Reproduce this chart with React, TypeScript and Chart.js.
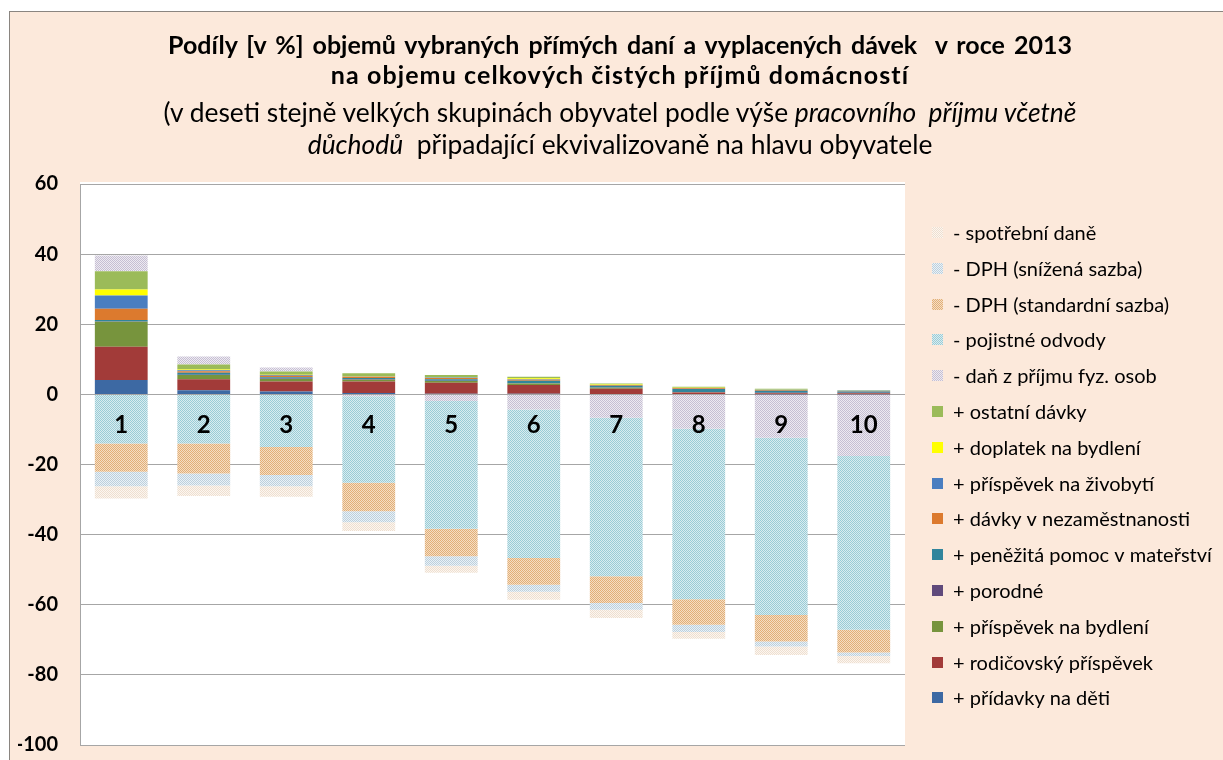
import React, { useEffect, useRef } from "react";
import { Chart, registerables } from "chart.js";

Chart.register(...registerables);

// ---- data (values in % of total net household income) ----
const deciles = ["1", "2", "3", "4", "5", "6", "7", "8", "9", "10"];

const pridavkyNaDeti = [4.1, 1.2, 0.8, 0.4, 0.2, 0.2, 0.1, 0.1, 0.05, 0.05];
const rodicovskyPrispevek = [9.5, 3.1, 2.9, 3.3, 3.1, 2.5, 1.5, 0.4, 0.3, 0.3];
const prispevekNaBydleni = [7.1, 1.2, 0.7, 0.5, 0.5, 0.4, 0.3, 0.1, 0.05, 0.05];
const porodne = [0.1, 0.1, 0.1, 0.1, 0.1, 0.1, 0.05, 0.05, 0.05, 0.05];
const penezitaPomoc = [0.4, 0.6, 0.4, 0.4, 0.4, 0.7, 0.5, 0.9, 0.6, 0.4];
const davkyNezamestnanost = [3.2, 0.4, 0.4, 0.3, 0.4, 0.3, 0.2, 0.2, 0.2, 0.1];
const prispevekNaZivobyti = [3.8, 0.3, 0.2, 0.1, 0.1, 0.1, 0.05, 0.1, 0.05, 0.05];
const doplatekNaBydleni = [1.7, 0.2, 0.1, 0.1, 0.1, 0.3, 0.1, 0.05, 0.1, 0.05];
const ostatniDavky = [5.2, 1.4, 0.9, 0.8, 0.6, 0.4, 0.3, 0.3, 0.2, 0.15];
const danZPrijmu = [4.5, 2.3, 1.2, -0.5, -1.9, -4.3, -6.7, -9.8, -12.4, -17.6];
const pojistneOdvody = [-14.0, -14.0, -15.0, -24.7, -36.4, -42.4, -45.2, -48.6, -50.5, -49.5];
const dphStandardni = [-8.1, -8.6, -8.0, -8.1, -7.9, -7.6, -7.6, -7.3, -7.6, -6.5];
const dphSnizena = [-4.1, -3.4, -3.2, -3.2, -2.7, -2.0, -1.9, -2.1, -1.4, -1.0];
const spotrebniDane = [-3.5, -3.0, -3.0, -2.5, -2.0, -2.3, -2.4, -1.9, -2.4, -2.1];

const seriesLabels = [
  "+ přídavky na děti",
  "+ rodičovský příspěvek",
  "+ příspěvek na bydlení",
  "+ porodné",
  "+ peněžitá pomoc v mateřství",
  "+ dávky v nezaměstnanosti",
  "+ příspěvek na živobytí",
  "+ doplatek na bydlení",
  "+ ostatní dávky",
  "- daň z příjmu fyz. osob",
  "- pojistné odvody",
  "- DPH (standardní sazba)",
  "- DPH (snížená sazba)",
  "- spotřební daně",
];

const seriesValues = [
  pridavkyNaDeti,
  rodicovskyPrispevek,
  prispevekNaBydleni,
  porodne,
  penezitaPomoc,
  davkyNezamestnanost,
  prispevekNaZivobyti,
  doplatekNaBydleni,
  ostatniDavky,
  danZPrijmu,
  pojistneOdvody,
  dphStandardni,
  dphSnizena,
  spotrebniDane,
];

// ---- styles ----
const solidColors: (string | null)[] = [
  "#3D69A3",
  "#A23B39",
  "#77943D",
  "#604A7B",
  "#31859C",
  "#DC7A2E",
  "#4A7EC0",
  "#FFFF00",
  "#9BBB59",
  null,
  null,
  null,
  null,
  null,
];
const patternColors: ([string, string] | null)[] = [
  null, null, null, null, null, null, null, null, null,
  ["#C6BFD3", "#EDEAF1"],
  ["#9ACCD6", "#D9ECF0"],
  ["#E2AF78", "#F5DEC4"],
  ["#BBD0DE", "#EBF1F5"],
  ["#EEDFD0", "#FCF6F0"],
];

const FONT = "Lato, 'Open Sans', sans-serif";

function makePattern(ctx: CanvasRenderingContext2D, fg: string, bg: string) {
  const c = document.createElement("canvas");
  c.width = 2;
  c.height = 2;
  const x = c.getContext("2d")!;
  x.fillStyle = bg;
  x.fillRect(0, 0, 2, 2);
  x.fillStyle = fg;
  x.fillRect(0, 0, 1, 1);
  x.fillRect(1, 1, 1, 1);
  return ctx.createPattern(c, "repeat")!;
}

const plotBg = {
  id: "plotBg",
  beforeDraw(chart: any) {
    const { ctx, chartArea } = chart;
    ctx.save();
    ctx.fillStyle = "#FFFFFF";
    ctx.fillRect(chartArea.left, chartArea.top - 2, chartArea.right - chartArea.left, chartArea.bottom - chartArea.top + 3);
    ctx.restore();
  },
};

const sideLegend = {
  id: "sideLegend",
  afterDraw(chart: any) {
    const { ctx, chartArea } = chart;
    const ds = chart.data.datasets.slice().reverse();
    const x0 = chartArea.right + 27;
    const y0 = chartArea.top + 48.5;
    const step = 35.8;
    ctx.save();
    ctx.font = `20px ${FONT}`;
    ctx.textBaseline = "middle";
    ds.forEach((d: any, i: number) => {
      const y = y0 + i * step;
      ctx.fillStyle = d.backgroundColor;
      ctx.fillRect(x0, Math.round(y - 5.5), 11, 11);
      ctx.fillStyle = "#000000";
      ctx.fillText(d.label, x0 + 21, y + 1);
    });
    ctx.restore();
  },
};

export default function App() {
  const canvasRef = useRef<HTMLCanvasElement | null>(null);

  useEffect(() => {
    const canvas = canvasRef.current!;
    const ctx = canvas.getContext("2d")!;
    const datasets = seriesLabels.map((label, i) => {
      const pc = patternColors[i];
      const bg = pc ? makePattern(ctx, pc[0], pc[1]) : (solidColors[i] as string);
      return {
        label,
        data: seriesValues[i],
        backgroundColor: bg as any,
        borderWidth: 0,
        barPercentage: 0.64,
        categoryPercentage: 1.0,
      };
    });

    const chart = new Chart(canvas, {
      type: "bar",
      data: { labels: deciles, datasets },
      options: {
        responsive: false,
        animation: false,
        devicePixelRatio: 1,
        layout: { padding: { left: 8, right: 318, top: 172, bottom: 15 } },
        plugins: { legend: { display: false }, tooltip: { enabled: false }, title: { display: false } },
        scales: {
          x: {
            stacked: true,
            position: { y: 0 } as any,
            grid: { display: false, drawTicks: false },
            border: { display: false },
            ticks: {
              color: "#000000",
              font: { family: FONT, size: 24, weight: "bold" },
              padding: 16,
              z: 1,
            } as any,
            afterFit: (scale: any) => {
              scale.height = 0;
            },
          },
          y: {
            stacked: true,
            min: -100,
            max: 60,
            ticks: {
              stepSize: 20,
              color: "#000000",
              font: { family: FONT, size: 20, weight: "bold" },
              padding: 0,
            },
            grid: {
              color: "#A6A6A6",
              lineWidth: 1,
              drawTicks: true,
              tickLength: 22,
              tickColor: "rgba(0,0,0,0)",
            },
            border: { display: true, color: "#A6A6A6" },
            afterFit: (scale: any) => {
              scale.width = 62;
            },
          },
        },
      },
      plugins: [plotBg, sideLegend],
    });
    return () => chart.destroy();
  }, []);

  const titleBase: React.CSSProperties = {
    position: "absolute",
    left: 0,
    width: 1220,
    textAlign: "center",
    fontFamily: FONT,
    color: "#000000",
    whiteSpace: "pre",
  };

  return (
    <div
      style={{
        position: "absolute",
        left: 9,
        top: 11,
        width: 1213,
        height: 748,
        background: "#FCE9DB",
        borderLeft: "1px solid #8A8580",
        borderTop: "1px solid #8A8580",
        overflow: "hidden",
      }}
    >
      <canvas ref={canvasRef} width={1213} height={748} style={{ position: "absolute", left: 0, top: 0 }} />
      <div style={{ ...titleBase, top: 20, fontSize: 25, lineHeight: "25px", fontWeight: "bold", wordSpacing: 3 }}>
        Podíly [v %] objemů vybraných přímých daní a vyplacených dávek  v roce 2013
      </div>
      <div style={{ ...titleBase, top: 50, fontSize: 25, lineHeight: "25px", fontWeight: "bold", letterSpacing: 1.1 }}>
        na objemu celkových čistých příjmů domácností
      </div>
      <div style={{ ...titleBase, top: 87, fontSize: 26.4, lineHeight: "26px" }}>
        (v deseti stejně velkých skupinách obyvatel podle výše <i>pracovního  příjmu včetně</i>
      </div>
      <div style={{ ...titleBase, top: 119, fontSize: 26.4, lineHeight: "26px" }}>
        <i>důchodů</i>  připadající ekvivalizovaně na hlavu obyvatele
      </div>
    </div>
  );
}
